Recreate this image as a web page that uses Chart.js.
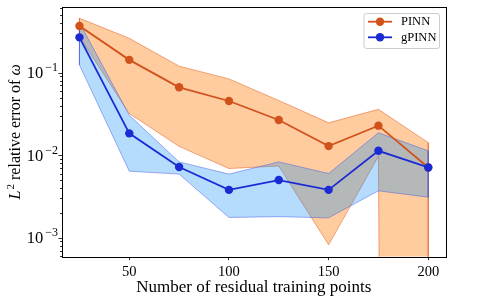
<!DOCTYPE html>
<html><head><meta charset="utf-8">
<script src="https://cdn.jsdelivr.net/npm/chart.js@4"></script>
<style>html,body{margin:0;padding:0;background:#fff;} canvas{display:block}</style>
</head><body>
<canvas id="c" width="479" height="298"></canvas>
<script>
// ---- data (mean and mean ± std bands) ----
const points     = [25, 50, 75, 100, 125, 150, 175, 200];
const pinnMean   = [0.368, 0.143, 0.0665, 0.0454, 0.0267, 0.0129, 0.0228, 0.0071];
const pinnUpper  = [0.457, 0.261, 0.120, 0.084, 0.046, 0.0247, 0.036, 0.0142];
const pinnLower  = [0.272, 0.032, 0.0128, 0.0069, 0.0074, 0.00082, 0.0097, 0];
const gpinnMean  = [0.268, 0.0184, 0.0072, 0.0038, 0.0050, 0.0038, 0.0113, 0.0071];
const gpinnUpper = [0.405, 0.0305, 0.0083, 0.0059, 0.0083, 0.0060, 0.0187, 0.0113];
const gpinnLower = [0.124, 0.0064, 0.0059, 0.00176, 0.0018, 0.00174, 0.0037, 0.0031];
const xTicks     = [50, 100, 150, 200];
const yMajorExps = [-3, -2, -1];
const seriesLabels = ['PINN', 'gPINN'];
const xTitle = 'Number of residual training points';
const yTitleParts = [['L', 'italic'], ['2', 'sup'], [' relative error of ', 'normal'], ['ω', 'italic']];

const serif = '"Liberation Serif", "DejaVu Serif", serif';
const LOG_FLOOR = 1e-100; // non-positive values are clipped like matplotlib's log scale
const clipv = v => (v > 0 ? v : LOG_FLOOR);
const toPts = ys => points.map((x, i) => ({x, y: clipv(ys[i])}));
const edge = (up, lo, i) => [{x: points[i], y: clipv(up[i])}, {x: points[i], y: clipv(lo[i])}];
const last = points.length - 1;

const orangeLine = '#d2521c', blueLine = '#1b2bd4';
const orangeFill = 'rgba(255,127,14,0.4)', orangeEdge = 'rgba(225,100,40,0.55)';
const blueFill = 'rgba(10,140,245,0.3)', blueEdge = 'rgba(60,80,230,0.45)';

const bandStyle = (c) => ({borderColor: c, borderWidth: 1, pointRadius: 0, tension: 0, fill: false});

const axesPlugin = {
  id: 'mplAxes',
  afterDraw(chart) {
    const {ctx, chartArea: a, scales: {x, y}} = chart;
    ctx.save();
    ctx.strokeStyle = '#000';
    ctx.lineWidth = 0.8;
    // y ticks (major + minor, matplotlib style)
    const e0 = Math.floor(Math.log10(y.min)), e1 = Math.ceil(Math.log10(y.max));
    for (let e = e0; e <= e1; e++) {
      for (let m = 1; m <= 9; m++) {
        const v = m * Math.pow(10, e);
        if (v < y.min || v > y.max) continue;
        const py = Math.round(y.getPixelForValue(v)) + 0.5;
        const len = m === 1 ? 3.5 : 2;
        ctx.beginPath(); ctx.moveTo(a.left - len, py); ctx.lineTo(a.left, py); ctx.stroke();
      }
    }
    // y tick labels 10^e
    ctx.fillStyle = '#000';
    ctx.textBaseline = 'alphabetic';
    yMajorExps.forEach(e => {
      const py = y.getPixelForValue(Math.pow(10, e));
      const sup = '\u2212' + Math.abs(e);
      ctx.font = '12px ' + serif;
      const ws = ctx.measureText(sup).width;
      ctx.font = '16.5px ' + serif;
      const wb = ctx.measureText('10').width;
      const right = a.left - 4;
      ctx.textAlign = 'left';
      ctx.fillText('10', right - ws - wb - 2, py + 5.5);
      ctx.font = '12px ' + serif;
      ctx.fillText(sup, right - ws, py - 1.5);
    });
    // y title
    ctx.save();
    ctx.translate(20, (a.top + a.bottom) / 2);
    ctx.rotate(-Math.PI / 2);
    const fontFor = s => s === 'italic' ? 'italic 16px ' + serif : s === 'sup' ? '11px ' + serif : '16px ' + serif;
    let total = 0;
    yTitleParts.forEach(([t, s]) => { ctx.font = fontFor(s); total += ctx.measureText(t).width + (s === 'sup' ? 1 : 0); });
    let cx = -total / 2;
    yTitleParts.forEach(([t, s]) => {
      ctx.font = fontFor(s);
      ctx.fillText(t, cx + (s === 'sup' ? 1 : 0), s === 'sup' ? -6.5 : 0);
      cx += ctx.measureText(t).width + (s === 'sup' ? 1 : 0);
    });
    ctx.restore();
    // frame
    ctx.lineWidth = 1;
    ctx.strokeStyle = '#000';
    ctx.strokeRect(Math.round(a.left) + 0.5, Math.round(a.top) + 0.5, Math.round(a.right - a.left), Math.round(a.bottom - a.top));
    // legend
    const bx = 364, by = 13.5, bw = 75.5, bh = 35, r = 2.5;
    ctx.beginPath();
    ctx.moveTo(bx + r, by); ctx.lineTo(bx + bw - r, by); ctx.arcTo(bx + bw, by, bx + bw, by + r, r);
    ctx.lineTo(bx + bw, by + bh - r); ctx.arcTo(bx + bw, by + bh, bx + bw - r, by + bh, r);
    ctx.lineTo(bx + r, by + bh); ctx.arcTo(bx, by + bh, bx, by + bh - r, r);
    ctx.lineTo(bx, by + r); ctx.arcTo(bx, by, bx + r, by, r);
    ctx.closePath();
    ctx.fillStyle = 'rgba(255,255,255,0.8)';
    ctx.fill();
    ctx.strokeStyle = '#cccccc';
    ctx.lineWidth = 1;
    ctx.stroke();
    const rows = [[seriesLabels[0], orangeLine, 21.7], [seriesLabels[1], blueLine, 37.3]];
    rows.forEach(([t, c, ry]) => {
      ctx.strokeStyle = c; ctx.lineWidth = 1.8;
      ctx.beginPath(); ctx.moveTo(368, ry); ctx.lineTo(392, ry); ctx.stroke();
      ctx.fillStyle = c;
      ctx.beginPath(); ctx.arc(380, ry, 4.2, 0, Math.PI * 2); ctx.fill();
      ctx.fillStyle = '#000';
      ctx.font = '12.5px ' + serif;
      ctx.textBaseline = 'middle';
      ctx.textAlign = 'left';
      ctx.fillText(t, 401, ry + 0.5);
    });
    ctx.restore();
  }
};

new Chart(document.getElementById('c'), {
  type: 'line',
  data: {
    datasets: [
      Object.assign({label: 'PINN upper', data: toPts(pinnUpper), order: 10}, bandStyle(orangeEdge), {fill: '+1', backgroundColor: orangeFill}),
      Object.assign({label: 'PINN lower', data: toPts(pinnLower), order: 9}, bandStyle(orangeEdge)),
      Object.assign({label: 'PINN edge0', data: edge(pinnUpper, pinnLower, 0), order: 9}, bandStyle(orangeEdge)),
      Object.assign({label: 'PINN edge1', data: edge(pinnUpper, pinnLower, last), order: 9}, bandStyle(orangeEdge)),
      Object.assign({label: 'gPINN upper', data: toPts(gpinnUpper), order: 8}, bandStyle(blueEdge), {fill: '+1', backgroundColor: blueFill}),
      Object.assign({label: 'gPINN lower', data: toPts(gpinnLower), order: 7}, bandStyle(blueEdge)),
      Object.assign({label: 'gPINN edge0', data: edge(gpinnUpper, gpinnLower, 0), order: 7}, bandStyle(blueEdge)),
      Object.assign({label: 'gPINN edge1', data: edge(gpinnUpper, gpinnLower, last), order: 7}, bandStyle(blueEdge)),
      {label: seriesLabels[0], data: toPts(pinnMean), order: 2, borderColor: orangeLine, backgroundColor: orangeLine,
       borderWidth: 1.8, pointRadius: 4.2, pointBorderWidth: 0, pointBackgroundColor: orangeLine, tension: 0, fill: false},
      {label: seriesLabels[1], data: toPts(gpinnMean), order: 1, borderColor: blueLine, backgroundColor: blueLine,
       borderWidth: 1.8, pointRadius: 4.2, pointBorderWidth: 0, pointBackgroundColor: blueLine, tension: 0, fill: false}
    ]
  },
  options: {
    responsive: false,
    animation: false,
    devicePixelRatio: 1,
    events: [],
    layout: {padding: {top: 7, right: 33.3, left: 0, bottom: 0}},
    plugins: {legend: {display: false}, tooltip: {enabled: false}},
    scales: {
      x: {
        type: 'linear', min: 16.25, max: 208.75, bounds: 'data',
        afterBuildTicks: s => { s.ticks = xTicks.map(v => ({value: v})); },
        afterFit: s => { s.height = 41.3; },
        grid: {display: true, drawOnChartArea: false, drawTicks: true, tickLength: 3.5, tickWidth: 0.8, tickColor: '#000', color: '#000'},
        border: {display: false},
        ticks: {font: {family: serif, size: 14.5}, color: '#000', padding: 3, maxRotation: 0, autoSkip: false, callback: v => String(v)},
        title: {display: true, text: xTitle, font: {family: serif, size: 17}, color: '#000', padding: {top: 0, bottom: 0}}
      },
      y: {
        type: 'logarithmic', min: Math.pow(10, -3.23), max: Math.pow(10, -0.204),
        afterFit: s => { s.width = 62; },
        ticks: {display: false},
        grid: {display: false},
        border: {display: false}
      }
    }
  },
  plugins: [axesPlugin]
});
</script>
</body></html>
